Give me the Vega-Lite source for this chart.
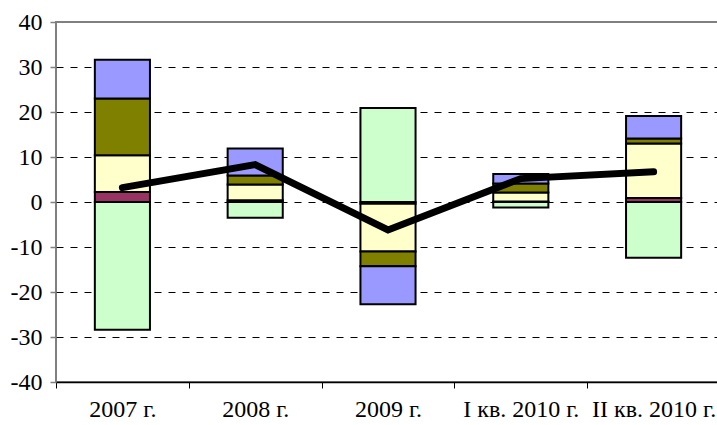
{
  "$schema": "https://vega.github.io/schema/vega-lite/v6.json",
  "autosize": {"type": "none"},
  "padding": {"left": 56, "top": 22, "right": 0, "bottom": 43},
  "width": 664,
  "height": 360,
  "config": {
    "view": {"stroke": "#808080", "strokeWidth": 2},
    "font": "Liberation Serif",
    "axis": {"labelFont": "Liberation Serif"}
  },
  "datasets": {
    "bars": [
      {"period": "2007 г.", "series": "A", "k": 1, "value": -28.4},
      {"period": "2007 г.", "series": "B", "k": 2, "value": 2.2},
      {"period": "2007 г.", "series": "C", "k": 3, "value": 8.2},
      {"period": "2007 г.", "series": "D", "k": 4, "value": 12.6},
      {"period": "2007 г.", "series": "E", "k": 5, "value": 8.6},
      {"period": "2008 г.", "series": "A", "k": 1, "value": -3.5},
      {"period": "2008 г.", "series": "B", "k": 2, "value": 0.4},
      {"period": "2008 г.", "series": "C", "k": 3, "value": 3.5},
      {"period": "2008 г.", "series": "D", "k": 4, "value": 2.0},
      {"period": "2008 г.", "series": "E", "k": 5, "value": 6.0},
      {"period": "2009 г.", "series": "A", "k": 1, "value": 20.9},
      {"period": "2009 г.", "series": "B", "k": 2, "value": -0.4},
      {"period": "2009 г.", "series": "C", "k": 3, "value": -10.6},
      {"period": "2009 г.", "series": "D", "k": 4, "value": -3.3},
      {"period": "2009 г.", "series": "E", "k": 5, "value": -8.4},
      {"period": "I кв. 2010 г.", "series": "A", "k": 1, "value": -1.2},
      {"period": "I кв. 2010 г.", "series": "B", "k": 2, "value": 0.1},
      {"period": "I кв. 2010 г.", "series": "C", "k": 3, "value": 2.0},
      {"period": "I кв. 2010 г.", "series": "D", "k": 4, "value": 2.0},
      {"period": "I кв. 2010 г.", "series": "E", "k": 5, "value": 2.1},
      {"period": "II кв. 2010 г.", "series": "A", "k": 1, "value": -12.4},
      {"period": "II кв. 2010 г.", "series": "B", "k": 2, "value": 0.9},
      {"period": "II кв. 2010 г.", "series": "C", "k": 3, "value": 12.1},
      {"period": "II кв. 2010 г.", "series": "D", "k": 4, "value": 1.1},
      {"period": "II кв. 2010 г.", "series": "E", "k": 5, "value": 5.0}
    ],
    "total": [
      {"period": "2007 г.", "value": 3.2},
      {"period": "2008 г.", "value": 8.3},
      {"period": "2009 г.", "value": -6.2},
      {"period": "I кв. 2010 г.", "value": 5.2},
      {"period": "II кв. 2010 г.", "value": 6.7}
    ]
  },
  "encoding": {
    "x": {
      "field": "period",
      "type": "nominal",
      "sort": null,
      "scale": {"paddingInner": 0, "paddingOuter": 0},
      "axis": {
        "title": null,
        "labelAngle": 0,
        "labelFont": "Liberation Serif",
        "labelFontSize": 24,
        "labelColor": "black",
        "labelPadding": 9,
        "tickBand": "extent",
        "tickSize": 6,
        "tickColor": "black",
        "domainColor": "black",
        "domainWidth": 1.5,
        "grid": false
      }
    }
  },
  "layer": [
    {
      "data": {"name": "bars"},
      "mark": {"type": "bar", "width": {"band": 0.415}, "stroke": "black", "strokeWidth": 2},
      "encoding": {
        "y": {
          "field": "value",
          "type": "quantitative",
          "stack": "zero",
          "scale": {"domain": [-40, 40], "nice": false},
          "axis": {
            "title": null,
            "values": [-40, -30, -20, -10, 0, 10, 20, 30, 40],
            "labelExpr": "replace(datum.label, '−', '-')",
            "labelFont": "Liberation Serif",
            "labelFontSize": 24,
            "labelColor": "black",
            "labelPadding": 8,
            "tickSize": 6,
            "tickColor": "#808080",
            "tickWidth": 1.5,
            "domain": false,
            "grid": true,
            "gridColor": "black",
            "gridDash": [7, 7],
            "gridWidth": 1,
            "gridOpacity": {"condition": {"test": "abs(datum.value) == 40", "value": 0}, "value": 1}
          }
        },
        "color": {
          "field": "series",
          "type": "nominal",
          "legend": null,
          "scale": {
            "domain": ["A", "B", "C", "D", "E"],
            "range": ["#CCFFCC", "#993366", "#FFFFCC", "#808000", "#9999FF"]
          }
        },
        "order": {"field": "k", "type": "quantitative"}
      }
    },
    {
      "data": {"name": "total"},
      "mark": {"type": "line", "color": "black", "strokeWidth": 7, "strokeCap": "round", "strokeJoin": "miter"},
      "encoding": {
        "y": {"field": "value", "type": "quantitative"}
      }
    }
  ]
}
